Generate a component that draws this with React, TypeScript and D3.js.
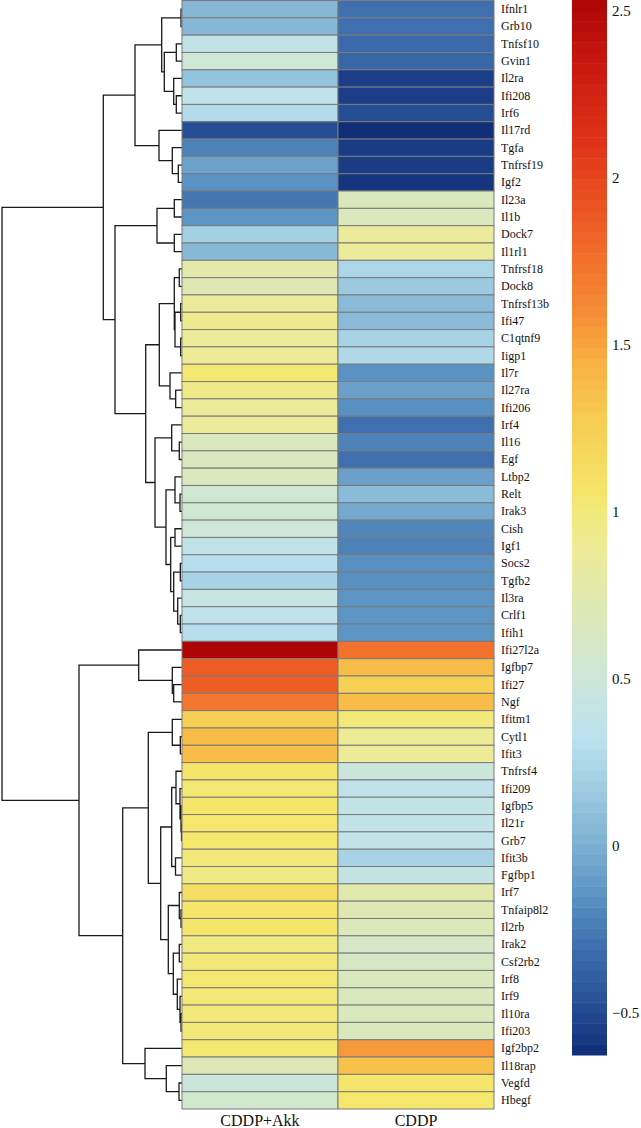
import React from "react";
import * as d3 from "d3";

const genes = ["Ifnlr1","Grb10","Tnfsf10","Gvin1","Il2ra","Ifi208","Irf6","Il17rd","Tgfa","Tnfrsf19","Igf2","Il23a","Il1b","Dock7","Il1rl1","Tnfrsf18","Dock8","Tnfrsf13b","Ifi47","C1qtnf9","Iigp1","Il7r","Il27ra","Ifi206","Irf4","Il16","Egf","Ltbp2","Relt","Irak3","Cish","Igf1","Socs2","Tgfb2","Il3ra","Crlf1","Ifih1","Ifi27l2a","Igfbp7","Ifi27","Ngf","Ifitm1","Cytl1","Ifit3","Tnfrsf4","Ifi209","Igfbp5","Il21r","Grb7","Ifit3b","Fgfbp1","Irf7","Tnfaip8l2","Il2rb","Irak2","Csf2rb2","Irf8","Irf9","Il10ra","Ifi203","Igf2bp2","Il18rap","Vegfd","Hbegf"];

const groups = ["CDDP+Akk", "CDDP"];

const cddpAkk = [0.05,0.05,0.38,0.52,0.12,0.35,0.28,-0.48,-0.22,-0.07,-0.15,-0.27,-0.14,0.2,0.06,0.78,0.72,0.88,0.93,0.88,0.9,1.03,0.95,0.88,0.88,0.65,0.65,0.66,0.54,0.54,0.52,0.38,0.3,0.22,0.42,0.35,0.3,2.53,1.87,1.86,1.72,1.25,1.38,1.37,1.06,1.02,1.06,1.05,1.05,1.0,0.97,1.12,1.06,1.06,0.97,1.0,1.04,1.01,1.0,1.01,1.03,0.7,0.48,0.56];

const cddp = [-0.3,-0.3,-0.33,-0.35,-0.55,-0.55,-0.48,-0.62,-0.56,-0.56,-0.59,0.66,0.66,0.87,0.87,0.24,0.16,0.07,0.07,0.22,0.26,-0.15,-0.08,-0.16,-0.3,-0.22,-0.3,-0.08,0.07,-0.03,-0.2,-0.22,-0.16,-0.16,-0.14,-0.14,-0.14,1.75,1.37,1.24,1.37,1.0,0.9,0.89,0.48,0.35,0.4,0.37,0.37,0.22,0.41,0.76,0.72,0.68,0.6,0.62,0.66,0.66,0.66,0.66,1.55,1.35,1.06,1.05];

const legendTicks = [-0.5, 0, 0.5, 1, 1.5, 2, 2.5];
const valueRange = [-0.626, 2.533];

const colorStopValues = [-0.626,-0.5,-0.3,-0.15,0,0.2,0.33,0.5,0.7,0.9,1.05,1.3,1.45,1.6,1.85,2.1,2.35,2.533];
const colorStopColors = ["#112d78","#234a92","#3f6fae","#5a92c3","#7cafd2","#a4d0e4","#bde2ee","#cce6d8","#dde8b6","#eeeb96","#f5e66c","#f8c94f","#f8b043","#f68c35","#ef5f27","#e03419","#c8170f","#ad0505"];

type Node = string | [number, Node, Node];
const m = (h: number, a: Node, b: Node): Node => [h, a, b];

const dendroTree: Node = m(180,
  m(78.7,
    m(47,
      m(20.3,
        m(1, "Ifnlr1", "Grb10"),
        m(17.7,
          m(5.7, "Tnfsf10", "Gvin1"),
          m(8.3, "Il2ra", m(5.7, "Ifi208", "Irf6")))),
      m(23, "Il17rd", m(9.7, "Tgfa", m(3.7, "Tnfrsf19", "Igf2")))),
    m(67,
      m(25, m(7.7, "Il23a", "Il1b"), m(7.7, "Dock7", "Il1rl1")),
      m(36.3,
        m(22.7,
          m(7.7, m(2.7, "Tnfrsf18", "Dock8"), m(7, m(1.3, "Tnfrsf13b", "Ifi47"), m(1.3, "C1qtnf9", "Iigp1"))),
          m(12, "Il7r", m(6.3, "Il27ra", "Ifi206"))),
        m(27,
          m(10.3, "Irf4", m(2.7, "Il16", "Egf")),
          m(16,
            m(7, "Ltbp2", m(2, "Relt", "Irak3")),
            m(11.3,
              m(7, "Cish", "Igf1"),
              m(8.3, m(1.7, "Socs2", "Tgfb2"), m(4.3, "Il3ra", m(1.7, "Crlf1", "Ifih1"))))))))),
  m(103,
    m(43.3, "Ifi27l2a", m(9.7, "Igfbp7", m(8.3, "Ifi27", "Ngf"))),
    m(59.3,
      m(33.7,
        m(9.7, "Ifitm1", m(1.7, "Cytl1", "Ifit3")),
        m(21.3,
          m(10.3,
            m(6, "Tnfrsf4", m(2, "Ifi209", m(1, "Igfbp5", m(0.5, "Il21r", "Grb7")))),
            m(6.5, "Ifit3b", "Fgfbp1")),
          m(13.7,
            m(2.7, "Irf7", m(1, "Tnfaip8l2", "Il2rb")),
            m(8.7, m(2.7, "Irak2", "Csf2rb2"), m(4.7, "Irf8", m(2, "Irf9", m(1, "Il10ra", "Ifi203"))))))),
      m(37, "Igf2bp2", m(15.7, "Il18rap", m(3, "Vegfd", "Hbegf"))))));

export default function App() {
  const W = 641, H = 1128;
  const heatLeft = 182, heatRight = 494, heatTop = 0.5, heatBottom = 1109;
  const y = d3.scaleBand<string>().domain(genes).range([heatTop, heatBottom]);
  const x = d3.scaleBand<string>().domain(groups).range([heatLeft, heatRight]);
  const color = d3.scaleLinear<string>().domain(colorStopValues).range(colorStopColors).interpolate(d3.interpolateRgb).clamp(true);
  const hx = d3.scaleLinear().domain([0, 180]).range([heatLeft, 2]);

  const root = d3.hierarchy<Node>(dendroTree, (d) => (typeof d === "string" ? null : [d[1], d[2]]));
  const pos = new Map<any, { x: number; y: number }>();
  root.eachAfter((n: any) => {
    if (!n.children) {
      pos.set(n, { x: hx(0), y: (y(n.data as string) ?? 0) + y.bandwidth() / 2 });
    } else {
      const ys = n.children.map((c: any) => pos.get(c)!.y);
      pos.set(n, { x: hx((n.data as any)[0]), y: (ys[0] + ys[1]) / 2 });
    }
  });
  const segs: string[] = [];
  root.each((n: any) => {
    if (!n.children) return;
    const p = pos.get(n)!;
    const c0 = pos.get(n.children[0])!;
    const c1 = pos.get(n.children[1])!;
    segs.push(`M${c0.x},${c0.y}H${p.x}V${c1.y}H${c1.x}`);
  });

  const barTop = 0, barBottom = 1055, barLeft = 572, barRight = 607;
  const cb = d3.scaleLinear().domain(valueRange).range([barBottom, barTop]);
  const nSteps = 100;
  const stepVals = d3.range(nSteps).map((i) => valueRange[0] + ((i + 0.5) / nSteps) * (valueRange[1] - valueRange[0]));
  const stepH = (barBottom - barTop) / nSteps;

  const series = [cddpAkk, cddp];
  const font = "'Liberation Serif', 'DejaVu Serif', serif";

  return (
    <svg width={W} height={H} style={{ position: "absolute", left: 0, top: 0, background: "#fff" }} fontFamily={font}>
      <path d={segs.join("")} fill="none" stroke="#1a1a1a" strokeWidth={1.3} />
      {series.map((vals, gi) =>
        genes.map((g, i) => (
          <rect key={gi + "-" + g} x={x(groups[gi])} y={y(g)} width={x.bandwidth()} height={y.bandwidth()} fill={color(vals[i])} stroke="#7a7a7a" strokeWidth={1} />
        ))
      )}
      {genes.map((g) => (
        <text key={g} x={501} y={(y(g) ?? 0) + y.bandwidth() / 2 + 4} fontSize={12} fill="#111">{g}</text>
      ))}
      {groups.map((g) => (
        <text key={g} x={(x(g) ?? 0) + x.bandwidth() / 2} y={1126} fontSize={16} textAnchor="middle" fill="#111">{g}</text>
      ))}
      {stepVals.map((v, i) => (
        <rect key={i} x={barLeft} y={barBottom - (i + 1) * stepH} width={barRight - barLeft} height={stepH + 0.5} fill={color(v)} />
      ))}
      {legendTicks.map((t) => (
        <text key={t} x={612} y={cb(t) + 5} fontSize={15} fill="#111">{t < 0 ? "\u2212" + Math.abs(t) : String(t)}</text>
      ))}
    </svg>
  );
}
